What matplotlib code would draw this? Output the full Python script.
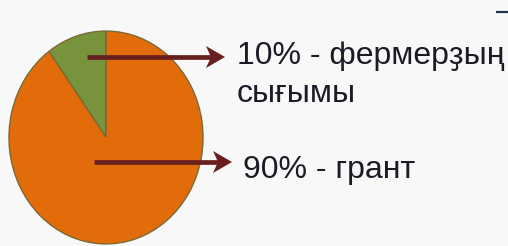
import matplotlib
matplotlib.use("Agg")
import matplotlib.pyplot as plt
import matplotlib.patches as patches

# data
labels = ["10% - фермерҙың\nсығымы", "90% - грант"]
shares = [10, 90]
colors = ["#77933c", "#e36c0a"]

W, H = 508, 246
bg = "#f8f8f9"
arrow_color = "#6a1f1f"
text_color = "#1b1b26"

fig = plt.figure(figsize=(W / 100, H / 100), dpi=100, facecolor=bg)

# pie axes (slightly taller than wide, like the reference)
pie_ax = fig.add_axes([8 / W, 1 / H, 196 / W, 215 / H])
pie_ax.pie(shares, colors=colors, startangle=90, counterclock=True,
           wedgeprops=dict(edgecolor="#7a6a35", linewidth=1.0))
pie_ax.set_aspect("auto")
pie_ax.set_xlim(-1.01, 1.01)
pie_ax.set_ylim(-1.01, 1.01)
pie_ax.axis("off")

# overlay axes in pixel coordinates for arrows and text
ax = fig.add_axes([0, 0, 1, 1])
ax.set_xlim(0, W)
ax.set_ylim(H, 0)
ax.axis("off")
ax.patch.set_alpha(0)


def draw_arrow(x0, x1, y):
    ax.plot([x0, x1 - 14], [y, y], color=arrow_color, lw=3.4,
            solid_capstyle="butt")
    head = patches.Polygon([(x1, y), (x1 - 19, y - 11), (x1 - 14, y),
                            (x1 - 19, y + 11)], closed=True,
                           facecolor=arrow_color, edgecolor="none")
    ax.add_patch(head)


draw_arrow(87, 225, 57)
draw_arrow(94, 232, 162)

font = ["Liberation Sans", "DejaVu Sans"]
first, second = labels[0].split("\n")
ax.text(237, 64, first, fontsize=23, color=text_color,
        va="baseline", ha="left", family=font)
ax.text(237, 102, second, fontsize=23, color=text_color,
        va="baseline", ha="left", family=font)
ax.text(243, 178, labels[1], fontsize=23, color=text_color,
        va="baseline", ha="left", family=font)

# small dark stroke in the top-right corner
ax.plot([496, 508], [11.5, 11.5], color="#1f3550", lw=1.6,
        solid_capstyle="butt")

fig.savefig("out.png", dpi=100, facecolor=bg)
